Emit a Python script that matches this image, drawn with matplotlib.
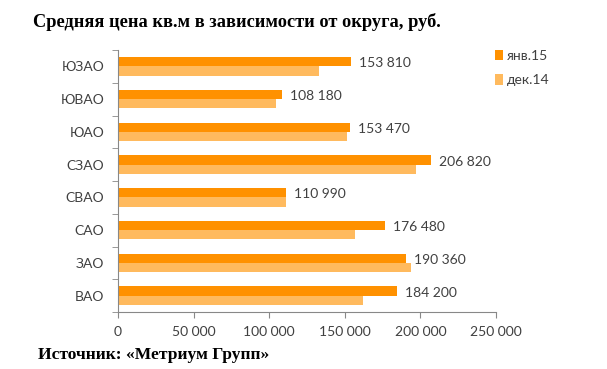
import matplotlib.pyplot as plt
import numpy as np

# data
districts = ['ВАО', 'ЗАО', 'САО', 'СВАО', 'СЗАО', 'ЮАО', 'ЮВАО', 'ЮЗАО']
jan15 = [184200, 190360, 176480, 110990, 206820, 153470, 108180, 153810]
dec14 = [162000, 193500, 156500, 111000, 197100, 151700, 104500, 132900]
xticks = [0, 50000, 100000, 150000, 200000, 250000]

dark = '#FF9100'
light = '#FFBA5E'
tick_color = '#404040'

fig = plt.figure(figsize=(6.07, 3.69), dpi=100)
ax = fig.add_axes([118/607, 1 - 312/369, (496-118)/607, (312-50)/369])

y = np.arange(len(districts))
h = 0.28
ax.barh(y + h/2, jan15, height=h, color=dark, label='янв.15')
ax.barh(y - h/2, dec14, height=h, color=light, label='дек.14')

for yi, v in zip(y, jan15):
    ax.text(v + 5500, yi + h/2 - 0.05, f'{v:,}'.replace(',', ' '), va='center', ha='left',
            fontsize=10, color=tick_color, family='Lato')

ax.set_xlim(0, 250000)
ax.set_ylim(-0.5, len(districts) - 0.5)
ax.set_xticks(xticks)
ax.set_xticklabels([f'{t:,}'.replace(',', ' ') for t in xticks], fontsize=10,
                   color=tick_color, family='Lato')
ax.set_yticks(y)
ax.set_yticklabels(districts, fontsize=10, color=tick_color, family='Lato')
ax.set_yticks(np.arange(len(districts) + 1) - 0.5, minor=True)
ax.tick_params(axis='y', which='major', length=0, pad=10)
ax.tick_params(axis='y', which='minor', length=4, color='#888888')
ax.tick_params(axis='x', length=4, color='#888888', pad=6)

for s in ['top', 'right']:
    ax.spines[s].set_visible(False)
for s in ['left', 'bottom']:
    ax.spines[s].set_color('#888888')

leg = ax.legend(loc='upper left', bbox_to_anchor=(482/607, 1 - 37/369), bbox_transform=fig.transFigure,
                frameon=False, handlelength=0.6, handleheight=0.8, handletextpad=0.3,
                labelspacing=0.9, prop={'family': 'Lato', 'size': 10})
for t in leg.get_texts():
    t.set_color(tick_color)

fig.text(33/607, 1 - 22/369, 'Средняя цена кв.м в зависимости от округа, руб.',
         fontsize=13.2, fontweight='bold', family='Liberation Serif', va='center')
fig.text(38/607, 1 - 355/369, 'Источник: «Метриум Групп»',
         fontsize=12.6, fontweight='bold', family='Liberation Serif', va='center')

fig.savefig('out.png', dpi=100)
